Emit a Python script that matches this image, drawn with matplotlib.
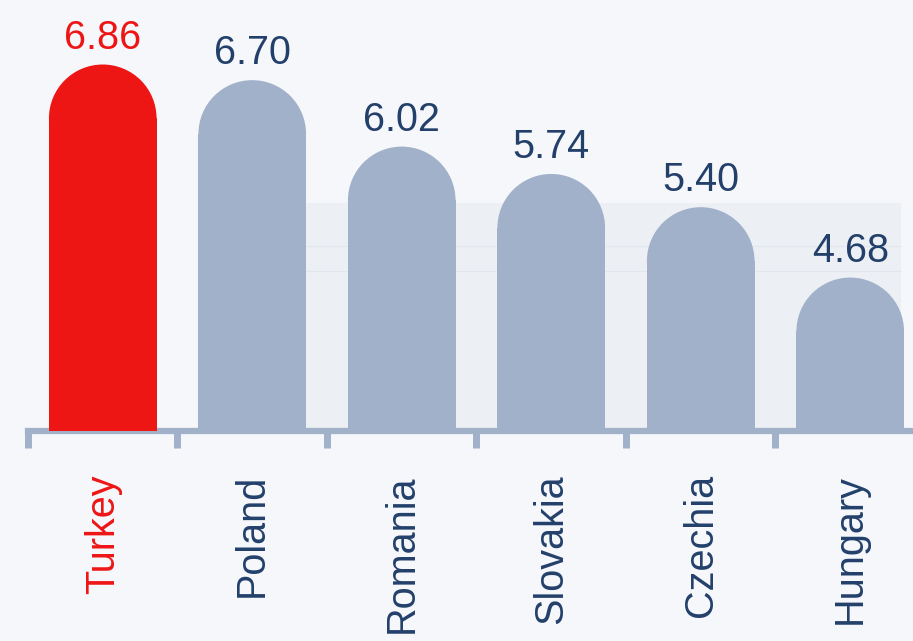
import numpy as np
import matplotlib.pyplot as plt
from matplotlib.patches import Ellipse, Rectangle

plt.rcParams['font.family'] = ['Liberation Sans', 'DejaVu Sans']

countries = ['Turkey', 'Poland', 'Romania', 'Slovakia', 'Czechia', 'Hungary']
values = [6.86, 6.70, 6.02, 5.74, 5.40, 4.68]
highlight = 'Turkey'

bg = '#f5f7fa'
band_c = '#eceff4'
grey = '#a0b1c9'
red = '#ee1515'
navy = '#23406b'

y0, y1 = 3.11, 7.52
bw = 0.72

fig = plt.figure(figsize=(9.13, 6.41), dpi=100, facecolor=bg)
ax = fig.add_axes([28 / 913, 210 / 641, 885 / 913, 431 / 641])
ax.set_facecolor(bg)

x = np.arange(len(countries))
for s in ['left', 'right', 'top']:
    ax.spines[s].set_visible(False)
ax.spines['bottom'].set_color(grey)
ax.spines['bottom'].set_linewidth(4.5)
ax.spines['bottom'].set_zorder(1.5)
ax.set_yticks([])

ax.set_xticks(x, countries, rotation=90, fontsize=28.5)
ax.tick_params(axis='x', which='major', length=0, pad=31)
ax.set_xticks(np.arange(-0.5, 6, 1), minor=True)
ax.tick_params(axis='x', which='minor', length=12, width=5, color=grey)
for lab, c in zip(ax.get_xticklabels(), countries):
    lab.set_color(red if c == highlight else navy)

# limits after the ticks, set_xticks would widen them
ax.set_xlim(-0.5, 5.42)
ax.set_ylim(y0, y1)

# light band behind the right-hand bars
ax.add_patch(Rectangle((1.34, y0), 4.0, 5.44 - y0, color=band_c, lw=0, zorder=0))
ax.hlines([4.75, 5.0], 1.34, 5.34, color='#e2e6ed', lw=0.8, zorder=0.5)

# half-height of the round cap in data units so it is a true semicircle on screen
fig.canvas.draw()
p0 = ax.transData.transform((0, 0))
p1 = ax.transData.transform((1, 1))
ry = bw / 2 * (p1[0] - p0[0]) / (p1[1] - p0[1])

colors = [red if c == highlight else grey for c in countries]
vals = np.array(values)
ax.bar(x, vals - ry - y0, bottom=y0, width=bw, color=colors, zorder=2)
for xi, v, c in zip(x, vals, colors):
    ax.add_patch(Ellipse((xi, v - ry), bw, 2 * ry, color=c, lw=0, zorder=2))
    ax.annotate(f'{v:.2f}', (xi, v), xytext=(0, 11.5), textcoords='offset points',
                ha='center', va='baseline', fontsize=28.5,
                color=red if c == red else navy)
ax.set_xlim(-0.5, 5.42)
ax.set_ylim(y0, y1)

fig.savefig('out.png', dpi=100, facecolor=bg)
